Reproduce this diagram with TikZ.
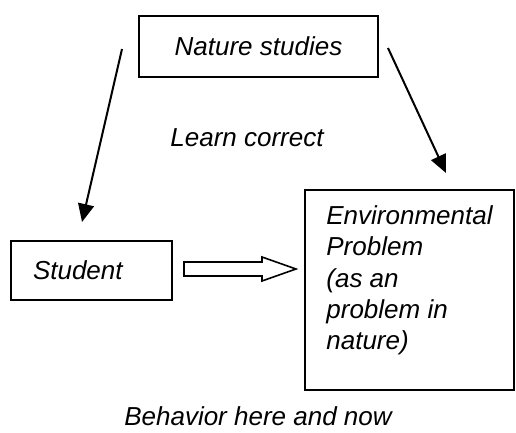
\documentclass[tikz,border=0pt]{standalone}
\usepackage{fontspec}
\setmainfont{Liberation Sans}
\usetikzlibrary{arrows.meta,calc}

\tikzset{%
				every box/.style={
					rectangle,
					draw,
					line width=0.8pt,
					inner sep=0pt
				},
				label text/.style={
					inner sep=0pt,
					font=\itshape\fontsize{13}{15.7}\selectfont
				},
				line arrow/.style={
					line width=1pt,
					-{Triangle[length=9pt,width=8pt]}
				},
			}

\begin{document}
\begin{tikzpicture}[x=0.5pt, y=-0.5pt]
			
			\useasboundingbox (0,0) rectangle (516,433);
			
			\node [every box, label text, minimum width=119.5pt, minimum height=30.5pt] (nature) at (258.5,46.5) {Nature studies};
			
			\node [every box, label text, minimum height=29.5pt, inner xsep=11pt, text width=58.5pt, align=left] (student) at (91.5,270.5) {Student};
			
			\node [every box, minimum width=104.5pt, minimum height=100pt, anchor=north west] (env) at (304,189) {};
			\node [label text, align=left, anchor=north west] (envtext) at (326,205) {Environmental\\Problem\\(as an\\problem in\\nature)};
			
			\node [label text, anchor=base] (learn) at (247,147) {Learn correct};
			\node [label text, anchor=base] (behavior) at (258,426) {Behavior here and now};
			
			% free arrow ends
			\coordinate (natL) at (122,49);
			\coordinate (stuT) at (82,222);
			\coordinate (natR) at (388,48);
			\coordinate (envT) at (446,173);
			
			\draw [line arrow] (natL) -- (stuT);
			\draw [line arrow] (natR) -- (envT);
			
			% hollow block arrow
			\coordinate (bstart) at (184,269);
			\coordinate (btip) at (296,269);
			\draw [line width=0.8pt] (bstart) ++(0,-7) -- ++(78,0) -- ++(0,-5) -- (btip) -- ++(-34,12) -- ++(0,-5) -- ++(-78,0) -- cycle;
			
			\end{tikzpicture}
\end{document}
